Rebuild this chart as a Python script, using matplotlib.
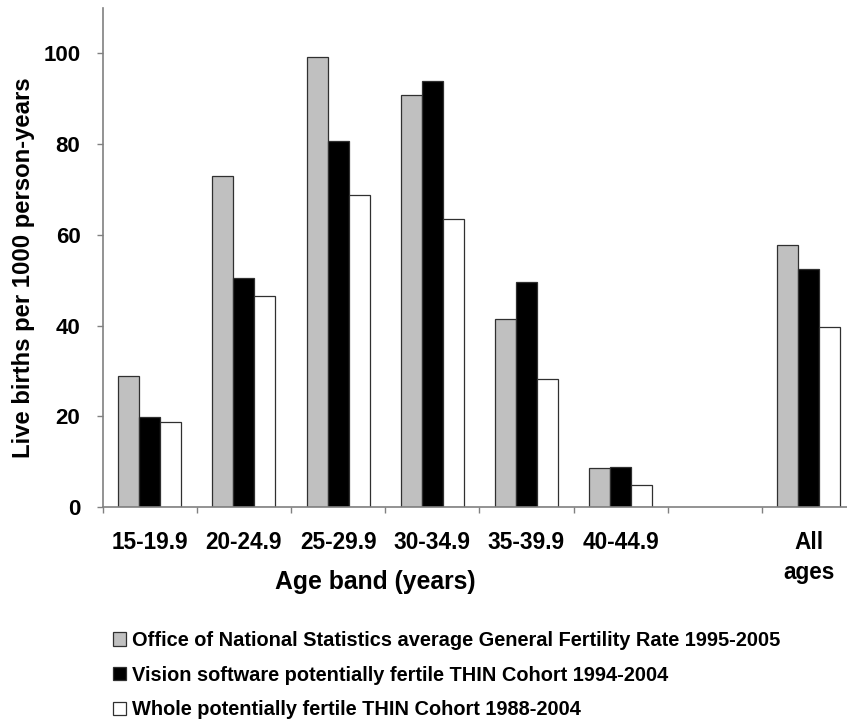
import numpy as np
import matplotlib
matplotlib.use("Agg")
from matplotlib import pyplot as plt
from matplotlib.patches import Patch

plt.rcParams['font.family'] = ['Liberation Sans', 'DejaVu Sans']
plt.rcParams['font.weight'] = 'bold'

# data
age_bands = ['15-19.9', '20-24.9', '25-29.9', '30-34.9', '35-39.9', '40-44.9', '', 'All\nages']
ons_rate = [28.9, 72.9, 99.3, 90.8, 41.5, 8.5, np.nan, 57.8]
vision_rate = [19.8, 50.5, 80.6, 94.0, 49.7, 8.8, np.nan, 52.5]
whole_rate = [18.7, 46.6, 68.8, 63.4, 28.2, 4.9, np.nan, 39.7]
series_names = ['Office of National Statistics average General Fertility Rate 1995-2005',
                'Vision software potentially fertile THIN Cohort 1994-2004',
                'Whole potentially fertile THIN Cohort 1988-2004']
series_colors = ['#C0C0C0', '#000000', '#FFFFFF']

W, H = 847, 724
fig = plt.figure(figsize=(W / 100, H / 100), dpi=100)
ax = fig.add_axes([102.7 / W, 1 - 507 / H, (856 - 102.7) / W, (507 - 8) / H])

x = np.arange(len(age_bands))
bw = 0.223
for k, (vals, col) in enumerate(zip([ons_rate, vision_rate, whole_rate], series_colors)):
    ax.bar(x + (k - 1) * bw, vals, width=bw, color=col, edgecolor='#303030', linewidth=0.9)

ax.set_xlim(-0.5, len(age_bands) - 0.5)
ax.set_ylim(0, 110)
ax.set_yticks(range(0, 101, 20))

# category boundaries as tick marks, labels centred as minor ticks
ax.set_xticks(np.arange(len(age_bands)) - 0.5)
ax.set_xticklabels([])
ax.set_xticks(x, minor=True)
ax.set_xticklabels(age_bands, minor=True, fontsize=16.3, fontweight='bold')
for lab in ax.get_xticklabels(minor=True):
    lab.set_linespacing(1.4)
ax.tick_params(axis='x', which='major', direction='out', length=4, width=1, color='#808080')
ax.tick_params(axis='x', which='minor', length=0, pad=17)
ax.tick_params(axis='y', direction='out', length=4, width=1, color='#808080',
               labelsize=16, pad=12)
for lab in ax.get_yticklabels():
    lab.set_fontweight('bold')

for s in ['top', 'right']:
    ax.spines[s].set_visible(False)
for s in ['left', 'bottom']:
    ax.spines[s].set_color('#808080')
    ax.spines[s].set_linewidth(1.2)

fig.text(24 / W, 1 - 267.5 / H, 'Live births per 1000 person-years', rotation=90,
         ha='center', va='center', fontsize=17.2, fontweight='bold')
fig.text(375 / W, 1 - 582 / H, 'Age band (years)', ha='center', va='center',
         fontsize=17.8, fontweight='bold')

handles = [Patch(facecolor=c, edgecolor='#303030', linewidth=0.9) for c in series_colors]
fig.legend(handles, series_names, loc='upper left', bbox_to_anchor=(113 / W, 1 - 631 / H),
           frameon=False, borderpad=0, borderaxespad=0, handlelength=0.64, handleheight=0.64,
           handletextpad=0.3, labelspacing=0.78, prop={'size': 14.4, 'weight': 'bold'})

fig.savefig('out.png', dpi=100)
